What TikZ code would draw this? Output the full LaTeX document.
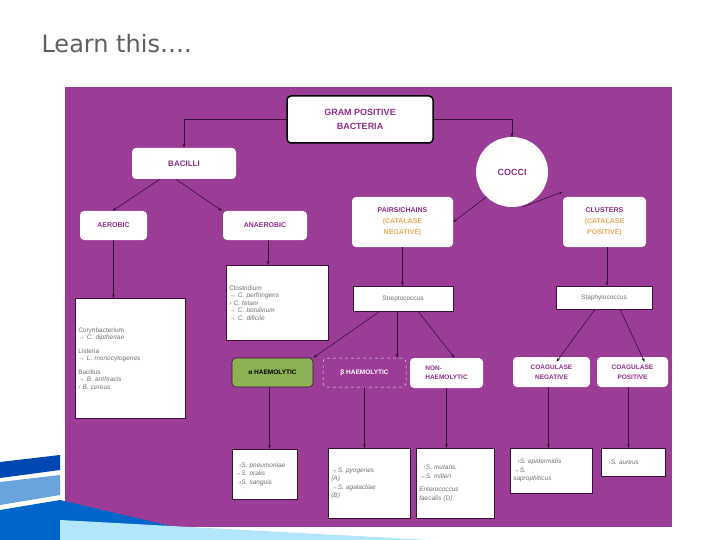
\documentclass[tikz,border=0pt]{standalone}
\usepackage{fontspec}
\setmainfont{Liberation Sans}
\newfontfamily\titlefont{DejaVu Sans}
\usetikzlibrary{arrows.meta,shapes.geometric}
\definecolor{panel}{HTML}{9B3C96}
\definecolor{ptext}{HTML}{8E2F88}
\definecolor{otext}{HTML}{F0A860}
\definecolor{gtext}{HTML}{707070}
\definecolor{agreen}{HTML}{8DB255}
\definecolor{darr}{HTML}{3A1038}
\begin{document}
\begin{tikzpicture}[x=1pt,y=-1pt,
  hbox/.style={draw=none,fill=white,rounded corners=4pt,align=center,font=\bfseries\fontsize{7}{9}\selectfont,text=ptext,inner sep=0pt},
  sbox/.style={draw=darr,line width=0.5pt,fill=white,align=left,font=\fontsize{6.5}{8.5}\selectfont,text=gtext,inner sep=0pt,anchor=north west,text width=#1},
  arr/.style={draw=darr,line width=0.6pt,-{Stealth[length=4pt,width=3pt]}},
  sp/.style={font=\itshape}]
\useasboundingbox (0,0) rectangle (720,540);
\fill[white] (0,0) rectangle (720,540);
\node[anchor=west,text=gray!75!black,font=\titlefont\fontsize{24}{28}\selectfont] (title) at (38,44) {Learn this….};
\fill[panel] (65,87) rectangle (672,527);
% decorative stripes
\fill[blue!60!cyan!70!black] (0,462) -- (60,455) -- (60,470) -- (0,478) -- cycle;
\fill[cyan!60!blue!60] (0,482) -- (60,475) -- (60,495) -- (0,505) -- cycle;
\fill[blue!50!cyan!80!black] (0,510) -- (60,500) -- (230,540) -- (0,540) -- cycle;
\fill[cyan!30] (60,520) -- (430,540) -- (60,540) -- cycle;
% nodes
\node[hbox,draw=black,line width=1.5pt,minimum width=146pt,minimum height=47pt,font=\bfseries\fontsize{9}{14}\selectfont] (gram) at (360,119.5) {GRAM POSITIVE\\BACTERIA};
\node[hbox,minimum width=104pt,minimum height=31pt,font=\bfseries\fontsize{8}{10}\selectfont] (bac) at (184,163.5) {BACILLI};
\node[ellipse,fill=white,minimum width=72pt,minimum height=70pt,text=ptext,font=\bfseries\fontsize{9}{11}\selectfont,inner sep=0pt] (cocci) at (512,172) {COCCI};
\node[hbox,minimum width=67pt,minimum height=29pt] (aer) at (113.5,225.5) {AEROBIC};
\node[hbox,minimum width=84pt,minimum height=29pt] (ana) at (265,225.5) {ANAEROBIC};
\node[hbox,minimum width=101pt,minimum height=50pt,font=\bfseries\fontsize{7}{11}\selectfont] (pairs) at (402.5,222) {PAIRS/CHAINS\\\textcolor{otext}{(CATALASE}\\\textcolor{otext}{NEGATIVE)}};
\node[hbox,minimum width=83pt,minimum height=50pt,font=\bfseries\fontsize{7}{11}\selectfont] (clus) at (604.5,222) {CLUSTERS\\\textcolor{otext}{(CATALASE}\\\textcolor{otext}{POSITIVE)}};
\node[sbox=96pt,minimum width=102pt,minimum height=75pt,inner xsep=3pt,inner ysep=3pt] (clos) at (226,265) {Clostridium\\[-1pt]{\itshape → C. perfringens\\[-1pt] › C. tetani\\[-1pt]→ C. botulinum\\[-1pt]→ C. dificile}};
\node[sbox=104pt,minimum width=110pt,minimum height=120pt,inner xsep=3pt,inner ysep=3pt] (cory) at (75,298) {Corynbacterium\\[-1pt]{\itshape → C. diptheriae}\\[5pt]Listeria\\[-1pt]{\itshape → L. monocytogenes}\\[5pt]Bacillus\\[-1pt]{\itshape → B. anthracis\\[-1pt] › B. cereus}};
\node[draw=darr,line width=0.5pt,fill=white,minimum width=100pt,minimum height=25pt,font=\fontsize{6.5}{8}\selectfont,text=gtext,inner sep=0pt] (strep) at (403,298.5) {Streptococcus};
\node[draw=darr,line width=0.5pt,fill=white,minimum width=96pt,minimum height=23pt,font=\fontsize{6.5}{8}\selectfont,text=gtext,inner sep=0pt] (staph) at (604,297.5) {Staphylococcus};
\node[hbox,fill=agreen,draw=darr,line width=0.6pt,text=black,minimum width=81pt,minimum height=29pt,font=\bfseries\fontsize{6.5}{8}\selectfont] (alpha) at (272.5,372.5) {α HAEMOLYTIC};
\node[hbox,fill=panel,draw=white!85!panel,dashed,line width=0.5pt,text=white,minimum width=83pt,minimum height=29pt,font=\bfseries\fontsize{6.5}{8}\selectfont] (beta) at (364.5,372.5) {β HAEMOLYTIC};
\node[hbox,minimum width=73pt,minimum height=30pt,align=left,font=\bfseries\fontsize{6.5}{9.5}\selectfont] (non) at (446.5,373) {NON-\\HAEMOLYTIC};
\node[hbox,minimum width=77pt,minimum height=30pt,font=\bfseries\fontsize{6.5}{10}\selectfont] (cneg) at (551.5,372) {COAGULASE\\NEGATIVE};
\node[hbox,minimum width=71pt,minimum height=30pt,font=\bfseries\fontsize{6.5}{10}\selectfont] (cpos) at (632.5,372) {COAGULASE\\POSITIVE};
% bottom
\node[sbox=60pt,minimum width=65pt,minimum height=50pt,inner xsep=2pt,inner ysep=3pt,font=\itshape\fontsize{6.5}{8.5}\selectfont] (b1) at (232,449) {\ \ ›S. pneumoniae\\→S. oralis\\\ \ ›S. sanguis};
\node[sbox=76pt,minimum width=82pt,minimum height=70pt,inner xsep=3pt,inner ysep=3pt,font=\itshape\fontsize{6.5}{8.5}\selectfont] (b2) at (328,448) {→S. pyogenes\\(A)\\→S. agalactiae\\(B)};
\node[sbox=72pt,minimum width=78pt,minimum height=70pt,inner xsep=3pt,inner ysep=3pt,font=\itshape\fontsize{6.5}{8.5}\selectfont] (b3) at (416,448) {\ \ ›S. mutans,\\→S. milleri\\[5pt]Enterococcus\\faecalis (D)};
\node[sbox=76pt,minimum width=82pt,minimum height=45pt,inner xsep=3pt,inner ysep=3pt,font=\itshape\fontsize{6.5}{8.5}\selectfont] (b4) at (510,448) {\ \ ›S. epidermidis\\→S.\\saprophiticus};
\node[sbox=58pt,minimum width=64pt,minimum height=28pt,inner xsep=3pt,inner ysep=3pt,font=\itshape\fontsize{6.5}{8.5}\selectfont] (b5) at (601,448) {\ \ ›S. aureus};
% connectors
\draw[arr] (gram.west) -| (bac.north);
\draw[arr] (gram.east) -| (cocci.north);
\draw[arr] ([xshift=-24pt]bac.south) -- ([xshift=-1pt]aer.north);
\draw[arr] ([xshift=-8pt]bac.south) -- ([xshift=-43pt]ana.north);
\draw[arr] (cocci.south west) -- (pairs.east);
\draw[arr] ([xshift=10pt]cocci.south) -- ([yshift=5pt]clus.north west);
\draw[arr] (aer.south) -- (aer.south |- cory.north);
\draw[arr] ([xshift=3pt]ana.south) -- ([xshift=3pt]ana.south |- clos.north);
\draw[arr] (pairs.south) -- (pairs.south |- strep.north);
\draw[arr] ([xshift=2.5pt]clus.south) -- ([xshift=2.5pt]clus.south |- staph.north);
\draw[arr] ([xshift=-23pt]strep.south) -- (alpha.north east);
\draw[arr] ([xshift=-6pt]strep.south) -- ([xshift=-6pt]strep.south |- beta.north);
\draw[arr] ([xshift=15pt]strep.south) -- ([xshift=8pt]non.north);
\draw[arr] ([xshift=-9pt]staph.south) -- ([xshift=5pt,yshift=-5pt]cneg.north);
\draw[arr] ([xshift=16pt]staph.south) -- ([xshift=12pt,yshift=-5pt]cpos.north);
\draw[arr] ([xshift=-3pt]alpha.south) -- ([xshift=-3pt]alpha.south |- b1.north);
\draw[arr,line width=0.4pt] (beta.south) -- (beta.south |- b2.north);
\draw[arr] (non.south) -- (non.south |- b3.north);
\draw[arr,line width=0.4pt] ([xshift=-3pt]cneg.south) -- ([xshift=-3pt]cneg.south |- b4.north);
\draw[arr] ([xshift=-4pt]cpos.south) -- ([xshift=-4pt]cpos.south |- b5.north);
\end{tikzpicture}
\end{document}
